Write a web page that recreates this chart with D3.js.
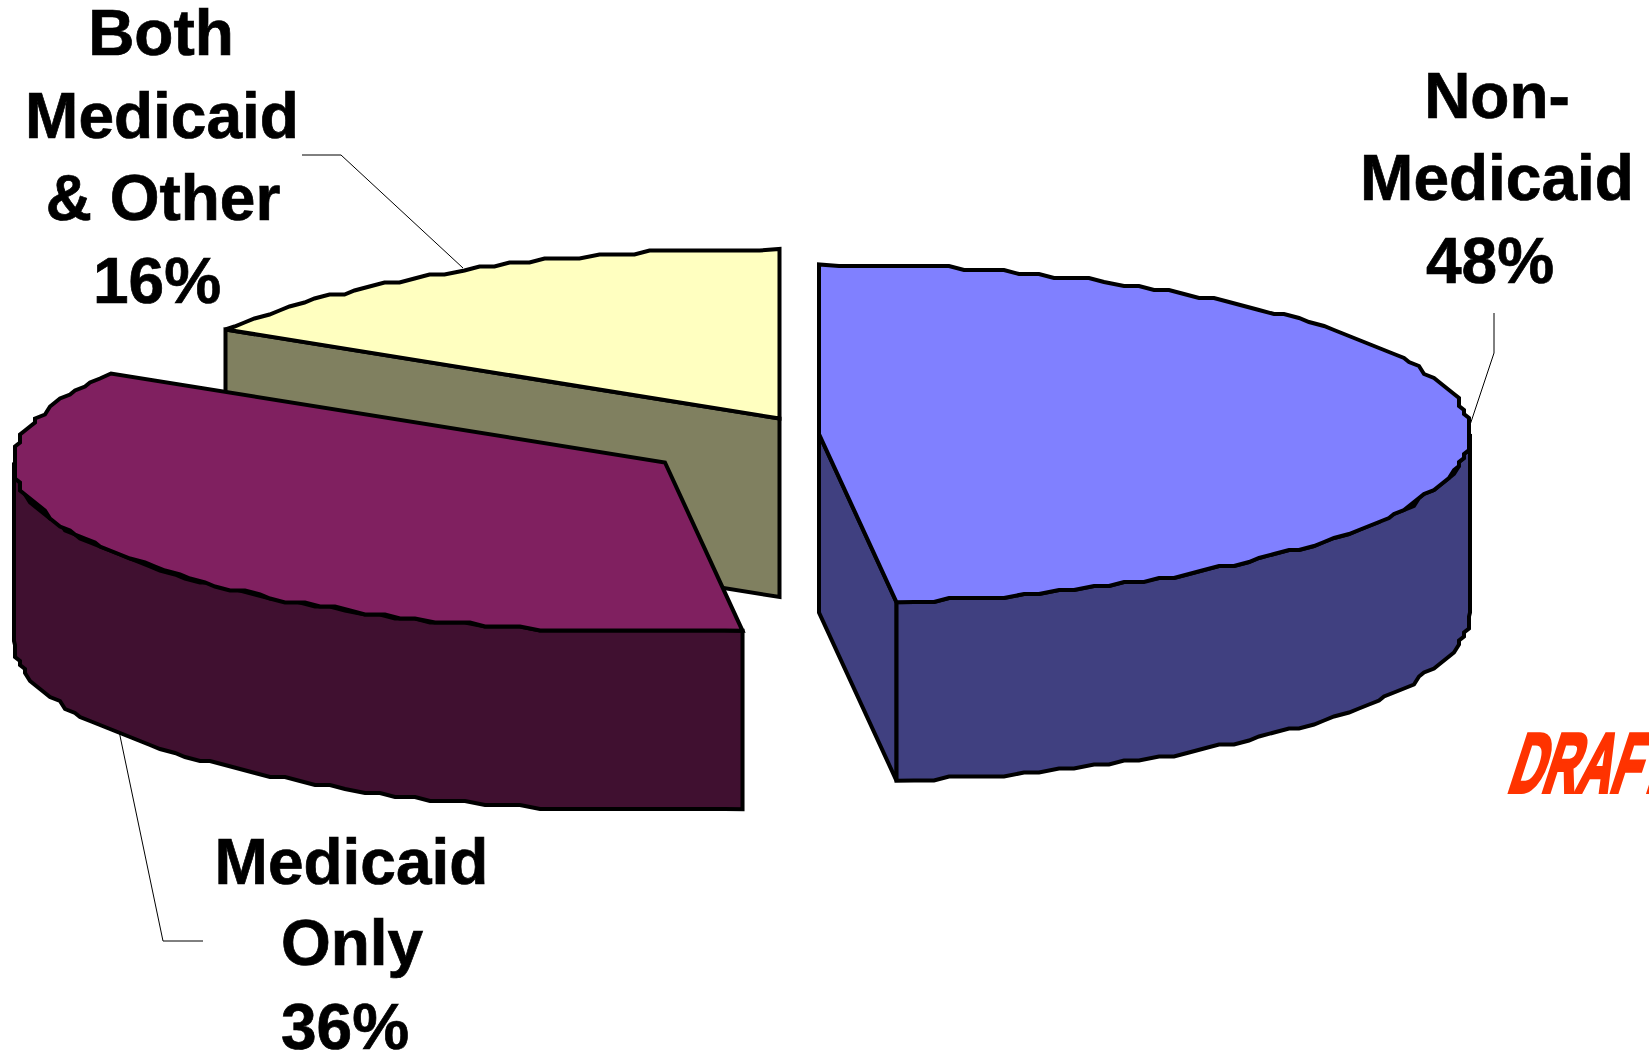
<!DOCTYPE html>
<html><head><meta charset="utf-8">
<script src="https://cdn.jsdelivr.net/npm/d3@7"></script>
<style>html,body{margin:0;padding:0;background:#fff;overflow:hidden}svg{display:block}</style>
</head><body><div id="c"></div>
<script>
// ---- data ----
const categories = ["Non-Medicaid", "Medicaid Only", "Both Medicaid & Other"];
const values = [48.1, 35.7, 16.2];
const labelLines = [["Non-", "Medicaid", "48%"], ["Medicaid", "Only", "36%"], ["Both", "Medicaid", "& Other", "16%"]];
const topColors = ["#8080FF", "#802060", "#FFFFC0"];
const sideColors = ["#404080", "#401030", "#808060"];
const stampText = "DRAFT";

// ---- layout ----
const W = 1649, H = 1054, RX = 651, RY = 169.5, DEPTH = 178.5;
const centers = [[819, 434], [665, 462.5], [779.5, 418.5]];
const labelX = [[1497, 1497, 1490], [351.5, 352, 345], [161, 162, 163, 157]];
const labelY = [[118, 200, 283], [884, 965, 1049], [55, 138, 220, 303]];
const leaders = [
  [[1494, 313], [1494, 353], [1470, 425]],
  [[119, 731], [163, 941], [203, 941]],
  [[302, 155], [341, 155], [463, 268]]
];

const svg = d3.select("#c").append("svg").attr("width", W).attr("height", H)
  .attr("viewBox", [0, 0, W, H]);

const pie = d3.pie().sort(null).value(d => d);
const arcs = pie(values);
const sx = d3.scaleLinear().domain([-1, 1]).range([-RX, RX]);
const sy = d3.scaleLinear().domain([-1, 1]).range([RY, -RY]);
const line = d3.line();
const q = (v, s) => Math.round(v / s) * s;

// rim of the projected disc, snapped to a coarse grid as in the low-res original
function rim(a0, a1, dy = 0) {
  const n = Math.max(2, Math.round((a1 - a0) / (Math.PI / 110)));
  return d3.range(n + 1).map(i => {
    const a = a0 + (a1 - a0) * i / n;
    const x = sx(Math.sin(a)), y = sy(Math.cos(a));
    return (i === 0 || i === n) ? [x, y + dy] : [q(x, 5), q(y, 4) + dy];
  });
}

function drawSlice(i) {
  const arc = arcs[i];
  const [cx, cy] = centers[i];
  const g = svg.append("g").attr("transform", `translate(${cx},${cy})`)
    .attr("stroke", "#000").attr("stroke-width", 4).attr("stroke-linejoin", "miter");
  const a0 = arc.startAngle, a1 = arc.endAngle;
  const end = [sx(Math.sin(a1)), sy(Math.cos(a1))];
  const start = [sx(Math.sin(a0)), sy(Math.cos(a0))];
  const side = sideColors[i], top = topColors[i];

  if (i === 2) {
    g.append("path").attr("fill", side)
      .attr("d", line([start, [0, 0], [0, DEPTH], [start[0], start[1] + DEPTH]]) + "Z");
  }
  if (i === 0) {
    g.append("path").attr("fill", side)
      .attr("d", line([[0, 0], end, [end[0], end[1] + DEPTH], [0, DEPTH]]) + "Z");
  }
  const lo = Math.max(a0, Math.PI / 2), hi = Math.min(a1, 3 * Math.PI / 2);
  if (lo < hi) {
    const upper = rim(lo, hi), lower = rim(lo, hi, DEPTH).reverse();
    g.append("path").attr("fill", side).attr("d", line(upper.concat(lower)) + "Z");
  }
  g.append("path").attr("fill", top)
    .attr("d", line([[0, 0]].concat(rim(a0, a1))) + "Z");
}
[2, 1, 0].forEach(drawSlice);

svg.append("g").attr("fill", "none").attr("stroke", "#000").attr("stroke-width", 1)
  .selectAll("path").data(leaders).join("path").attr("d", d => line(d));

labelLines.forEach((lines, i) => {
  svg.append("g").attr("font-family", "'Liberation Sans', Arial, sans-serif")
    .attr("font-weight", 700).attr("font-size", 64).attr("fill", "#000")
    .attr("stroke", "#000").attr("stroke-width", 0.7)
    .attr("text-anchor", "middle")
    .selectAll("text").data(lines).join("text")
    .attr("x", (d, j) => labelX[i][j]).attr("y", (d, j) => labelY[i][j]).text(d => d);
});

svg.append("text").attr("transform", "translate(1506,792) skewX(-18) scale(0.56,1)")
  .attr("font-family", "'Liberation Sans', sans-serif")
  .attr("font-weight", 700).attr("font-size", 84).attr("fill", "#FF3300")
  .attr("stroke", "#FF3300").attr("stroke-width", 4).text(stampText);
</script></body></html>
